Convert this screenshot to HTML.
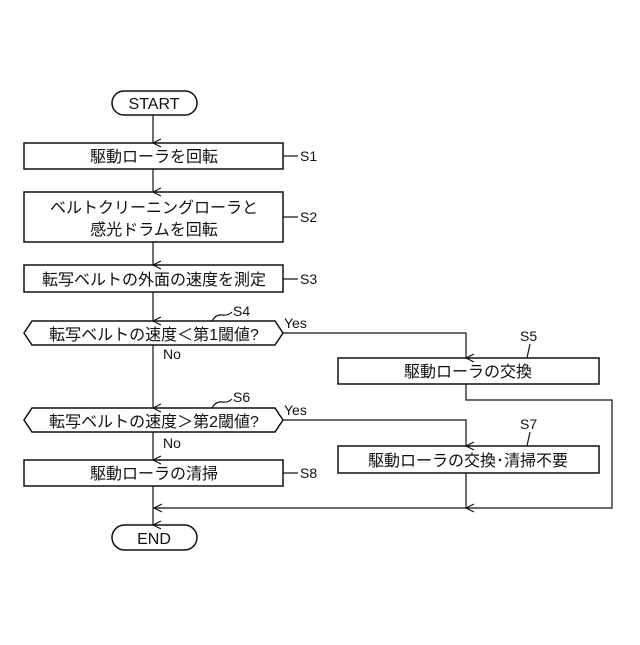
<!DOCTYPE html>
<html><head><meta charset="utf-8"><style>
body{margin:0;background:#fff}
svg text{font-family:"Liberation Sans","Noto Sans CJK JP",sans-serif;fill:#111}
</style></head><body>
<svg width="640" height="640" viewBox="0 0 640 640" xmlns="http://www.w3.org/2000/svg">
<defs><marker id="a" markerWidth="10" markerHeight="10" refX="5" refY="9" orient="auto" markerUnits="userSpaceOnUse"><path d="M1,1 L5,9 L9,1" fill="none" stroke="#111" stroke-width="1.2"/></marker>
<marker id="l" markerWidth="10" markerHeight="10" refX="1" refY="5" orient="auto-start-reverse" markerUnits="userSpaceOnUse"></marker></defs>
<g fill="none" stroke="#111" stroke-width="1.5">
<rect x="112" y="91" width="85" height="24" rx="12"/>
<rect x="112" y="525" width="85" height="25" rx="12.5"/>
<rect x="24" y="143" width="259" height="26"/>
<rect x="24" y="192" width="259" height="50"/>
<rect x="24" y="265" width="259" height="27"/>
<polygon points="32,321 275,321 283,333 275,345 32,345 24,333"/>
<polygon points="32,408 275,408 283,420 275,432 32,432 24,420"/>
<rect x="338" y="358" width="261" height="26"/>
<rect x="338" y="446" width="261" height="27"/>
<rect x="24" y="460" width="259" height="26"/>
</g>
<g fill="none" stroke="#111" stroke-width="1.2">
<line x1="153" y1="115" x2="153" y2="143" marker-end="url(#a)"/>
<line x1="153" y1="169" x2="153" y2="192" marker-end="url(#a)"/>
<line x1="153" y1="242" x2="153" y2="265" marker-end="url(#a)"/>
<line x1="153" y1="292" x2="153" y2="321" marker-end="url(#a)"/>
<line x1="153" y1="345" x2="153" y2="408" marker-end="url(#a)"/>
<line x1="153" y1="432" x2="153" y2="460" marker-end="url(#a)"/>
<line x1="153" y1="486" x2="153" y2="525" marker-end="url(#a)"/>
<polyline points="283,333 466,333 466,358" marker-end="url(#a)"/>
<polyline points="283,420 466,420 466,446" marker-end="url(#a)"/>
<polyline points="466,384 466,400 612,400 612,508 153,508"/>
<line x1="466" y1="473" x2="466" y2="508" marker-end="url(#a)"/>
<path d="M162,504 L154,508 L162,512"/>
<line x1="283" y1="156" x2="298" y2="156"/>
<line x1="283" y1="217" x2="298" y2="217"/>
<line x1="283" y1="279" x2="298" y2="279"/>
<line x1="283" y1="473" x2="298" y2="473"/>
<path d="M212,321 q4,-7 10,-6 q6,1 10,-3"/>
<path d="M212,408 q4,-7 10,-6 q6,1 10,-3"/>
<line x1="527" y1="358" x2="530" y2="344"/>
<line x1="527" y1="446" x2="530" y2="432"/>
</g>
<g font-size="16">
<text x="154" y="109" text-anchor="middle">START</text>
<text x="154" y="544" text-anchor="middle">END</text>
<text x="154" y="162" text-anchor="middle">駆動ローラを回転</text>
<text x="154" y="213" text-anchor="middle">ベルトクリーニングローラと</text>
<text x="154" y="235" text-anchor="middle">感光ドラムを回転</text>
<text x="154" y="285" text-anchor="middle">転写ベルトの外面の速度を測定</text>
<text x="154" y="340" text-anchor="middle">転写ベルトの速度＜第1閾値?</text>
<text x="154" y="427" text-anchor="middle">転写ベルトの速度＞第2閾値?</text>
<text x="468" y="377" text-anchor="middle">駆動ローラの交換</text>
<text x="468" y="466" text-anchor="middle">駆動ローラの交換･清掃不要</text>
<text x="154" y="479" text-anchor="middle">駆動ローラの清掃</text>
</g>
<g font-size="14">
<text x="300" y="161">S1</text><text x="300" y="222">S2</text><text x="300" y="284">S3</text>
<text x="233" y="316">S4</text><text x="233" y="402">S6</text>
<text x="520" y="341">S5</text><text x="520" y="429">S7</text>
<text x="300" y="478">S8</text>
<text x="284" y="328">Yes</text><text x="284" y="415">Yes</text>
<text x="163" y="359">No</text><text x="163" y="448">No</text>
</g>
</svg>
</body></html>
